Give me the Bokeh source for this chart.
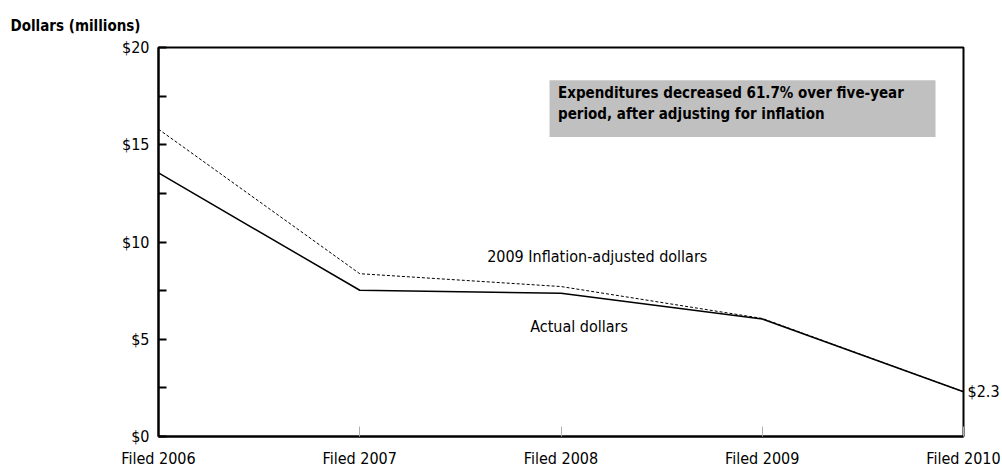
from bokeh.plotting import figure
from bokeh.models import (ColumnDataSource, FixedTicker, Range1d, Label, BoxAnnotation, LinearAxis)
from bokeh.embed import file_html
from bokeh.resources import INLINE

categories = ["Filed 2006", "Filed 2007", "Filed 2008", "Filed 2009", "Filed 2010"]
actual = [13.55, 7.52, 7.37, 6.04, 2.3]
adjusted = [15.8, 8.37, 7.71, 6.07, 2.3]
y_ticks = [0, 5, 10, 15, 20]
y_minor = [2.5, 7.5, 12.5, 17.5]
y_labels = ["$0", "$5", "$10", "$15", "$20"]

FONT = "DejaVu Sans Condensed, Liberation Sans, sans-serif"

xs = list(range(len(categories)))
src = ColumnDataSource(dict(x=xs, actual=actual, adjusted=adjusted))

p = figure(width=1002, height=470, output_backend="svg", toolbar_location=None,
           x_range=Range1d(0, len(categories) - 1), y_range=Range1d(0, 20),
           min_border_left=158, min_border_right=39, min_border_top=47, min_border_bottom=32)
p.background_fill_color = "white"
p.border_fill_color = "white"
p.outline_line_color = "black"
p.outline_line_width = 2
p.xgrid.visible = False
p.ygrid.visible = False

# title
p.title.text = "Dollars (millions)"
p.title.align = "left"
p.title.offset = -148
p.title.text_font = FONT
p.title.text_font_size = "15px"
p.title.text_font_style = "bold"
p.title.text_color = "black"
p.title.standoff = 26

# gray annotation box
p.add_layout(BoxAnnotation(left=1.943, right=3.861, bottom=15.4, top=18.31,
                           fill_color="#c0c0c0", fill_alpha=1, line_color=None, level="underlay"))

p.line("x", "adjusted", source=src, line_color="black", line_width=1, line_dash="3 2")
p.line("x", "actual", source=src, line_color="black", line_width=1.5)

# axes
p.xaxis.ticker = FixedTicker(ticks=xs)
p.xaxis.major_label_overrides = {i: c for i, c in zip(xs, categories)}
p.xaxis.major_tick_in = 10
p.xaxis.major_tick_out = 0
p.xaxis.major_tick_line_color = "#b0b0b0"
p.xaxis.minor_tick_line_color = None
p.xaxis.axis_line_color = "black"
p.xaxis.axis_line_width = 2
p.xaxis.major_label_standoff = 12
p.xaxis.major_label_text_font = FONT
p.xaxis.major_label_text_font_size = "16px"
p.xaxis.major_label_text_color = "black"

p.yaxis.ticker = FixedTicker(ticks=y_ticks, minor_ticks=y_minor)
p.yaxis.major_label_overrides = {t: l for t, l in zip(y_ticks, y_labels)}
p.yaxis.major_tick_in = 8
p.yaxis.major_tick_out = 0
p.yaxis.minor_tick_in = 8
p.yaxis.minor_tick_out = 0
p.yaxis.major_tick_line_color = "black"
p.yaxis.minor_tick_line_color = "black"
p.yaxis.major_tick_line_width = 2
p.yaxis.minor_tick_line_width = 2
p.yaxis.axis_line_color = "black"
p.yaxis.axis_line_width = 2
p.yaxis.major_label_standoff = 9
p.yaxis.major_label_text_font = FONT
p.yaxis.major_label_text_font_size = "16px"
p.yaxis.major_label_text_color = "black"

# end value label on a right axis
end_axis = LinearAxis(ticker=FixedTicker(ticks=[actual[-1]]),
                      major_label_overrides={actual[-1]: "$" + str(actual[-1])})
end_axis.axis_line_color = None
end_axis.major_tick_line_color = None
end_axis.minor_tick_line_color = None
end_axis.major_tick_in = 0
end_axis.major_tick_out = 0
end_axis.major_label_standoff = 4
end_axis.major_label_text_font = FONT
end_axis.major_label_text_font_size = "16px"
end_axis.major_label_text_color = "black"
p.add_layout(end_axis, "right")

# texts
p.add_layout(Label(x=1.985, y=17.64, text="Expenditures decreased 61.7% over five-year",
                   text_font=FONT, text_font_size="15px", text_font_style="bold",
                   text_color="black", text_baseline="middle"))
p.add_layout(Label(x=1.985, y=16.56, text="period, after adjusting for inflation",
                   text_font=FONT, text_font_size="15px", text_font_style="bold",
                   text_color="black", text_baseline="middle"))
p.add_layout(Label(x=2.18, y=9.25, text="2009 Inflation-adjusted dollars", text_font=FONT,
                   text_font_size="16px", text_color="black", text_baseline="middle",
                   text_align="center"))
p.add_layout(Label(x=2.09, y=5.65, text="Actual dollars", text_font=FONT,
                   text_font_size="16px", text_color="black", text_baseline="middle",
                   text_align="center"))

open("out.html", "w").write(file_html(p, INLINE))
